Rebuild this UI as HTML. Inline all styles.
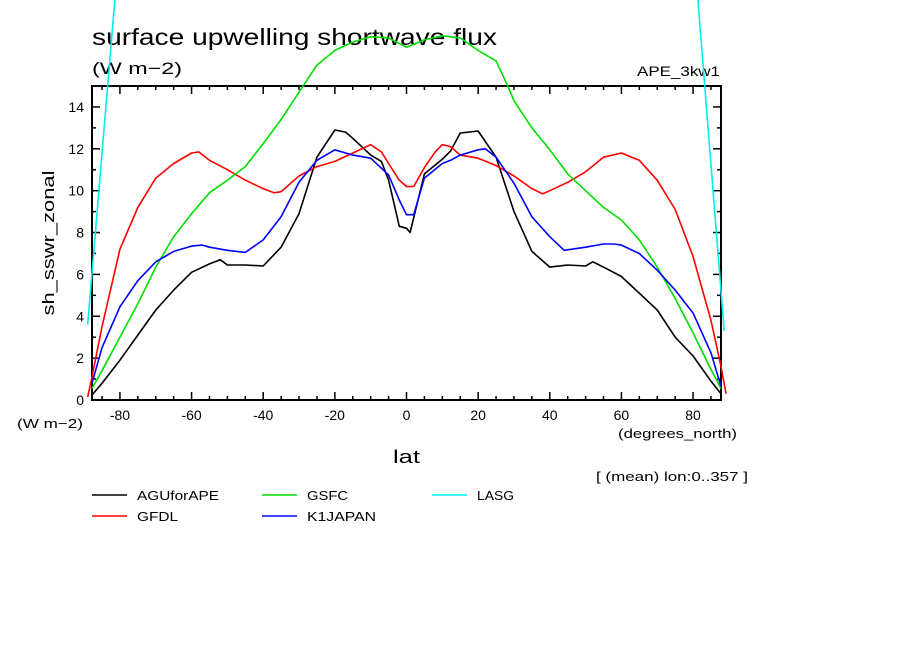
<!DOCTYPE html>
<html><head><meta charset="utf-8"><style>
body{margin:0;background:#fff;width:904px;height:654px;overflow:hidden}
svg{display:block;font-family:"Liberation Sans",sans-serif}
</style></head><body>
<svg id="chart" width="904" height="654" viewBox="0 0 904 654">
<text x="92" y="45" font-size="23" textLength="405" lengthAdjust="spacingAndGlyphs">surface upwelling shortwave flux</text>
<text x="92" y="74" font-size="17" textLength="90" lengthAdjust="spacingAndGlyphs">(W m−2)</text>
<text x="637" y="76" font-size="14" textLength="83" lengthAdjust="spacingAndGlyphs">APE_3kw1</text>
<text transform="translate(54,243) rotate(-90)" font-size="17" text-anchor="middle" textLength="145" lengthAdjust="spacingAndGlyphs">sh_sswr_zonal</text>
<text x="17" y="428" font-size="13" textLength="66" lengthAdjust="spacingAndGlyphs">(W m−2)</text>
<text x="618" y="438" font-size="13" textLength="119" lengthAdjust="spacingAndGlyphs">(degrees_north)</text>
<text x="393" y="463" font-size="18" textLength="27" lengthAdjust="spacingAndGlyphs">lat</text>
<text x="596" y="481" font-size="13" textLength="152" lengthAdjust="spacingAndGlyphs">[ (mean) lon:0..357 ]</text>
<g id="axes"></g>
<g id="series"></g>
<g id="legend"></g>
</svg>
<script>
const xTicks=[-80,-60,-40,-20,0,20,40,60,80];
const yTicks=[0,2,4,6,8,10,12,14];
const latAGU=[-87.8,-85,-80,-75,-70,-65,-60,-55,-52,-50,-45,-40,-35,-30,-25,-20,-17,-15,-10,-7,-5,-2,0,1,5,10,12.3,15,20,25,30,35,40,45,50,52,55,60,65,70,75,80,85,87.8];
const valAGU=[0.24,0.8,1.9,3.1,4.3,5.25,6.1,6.5,6.7,6.45,6.45,6.4,7.3,8.9,11.6,12.9,12.8,12.5,11.7,11.4,10.5,8.3,8.2,8.0,10.8,11.5,11.9,12.75,12.85,11.6,9.0,7.1,6.35,6.45,6.4,6.6,6.35,5.9,5.1,4.3,3.0,2.1,0.9,0.3];
const latGFDL=[-89,-87.8,-85,-80,-75,-70,-65,-60,-58,-55,-50,-45,-40,-37,-35,-30,-25,-20,-15,-10,-7,-5,-2,0,2,5,8,10,12.3,15,20,25,30,35,38,40,45,50,55,60,65,70,75,80,85,87.8,89.2];
const valGFDL=[0.15,1.1,3.5,7.2,9.2,10.6,11.3,11.8,11.85,11.45,11.0,10.5,10.1,9.9,9.95,10.7,11.15,11.4,11.8,12.2,11.85,11.3,10.5,10.2,10.2,11.1,11.85,12.2,12.1,11.7,11.55,11.2,10.7,10.1,9.85,10.0,10.4,10.9,11.6,11.8,11.45,10.5,9.1,6.85,3.8,1.6,0.3];
const latGSFC=[-87.8,-85,-80,-75,-70,-65,-60,-55,-50,-45,-40,-35,-30,-25,-20,-15,-10,-5,0,5,10,15,20,25,28,30,35,40,45,50,55,60,65,70,75,80,85,87.8];
const valGSFC=[0.55,1.4,3.0,4.6,6.35,7.8,8.9,9.9,10.5,11.15,12.25,13.4,14.7,16.0,16.7,17.1,17.35,17.3,16.85,17.2,17.4,17.3,16.7,16.2,15.1,14.3,13.0,11.95,10.8,10.0,9.2,8.6,7.65,6.35,4.85,3.2,1.45,0.55];
const latK1=[-87.8,-85,-80,-75,-70,-65,-60,-57,-55,-50,-45,-40,-35,-30,-25,-20,-15,-10,-5,-2,0,2,5,10,12.3,15,20,22,25,30,35,40,44,50,55,58,60,65,70,75,80,85,87.8];
const valK1=[0.8,2.5,4.45,5.7,6.6,7.1,7.35,7.4,7.3,7.15,7.05,7.65,8.75,10.4,11.45,11.95,11.7,11.55,10.75,9.55,8.85,8.85,10.6,11.3,11.45,11.7,11.95,12.0,11.6,10.35,8.75,7.8,7.15,7.3,7.45,7.45,7.4,7.0,6.2,5.25,4.15,2.25,0.65];
const latLASG=[-89,-80,80,88.7];
const valLASG=[3.6,22,22,3.3];
const names=["AGUforAPE","GFDL","GSFC","K1JAPAN","LASG"];
const colors=["#000","#f00","#0d0","#00f","#0ee"];
const NS="http://www.w3.org/2000/svg";
const X0=92,X1=721,Y0=400,Y1=86,LMIN=-87.8,LMAX=87.8,VMAX=15;
const sx=l=>X0+(l-LMIN)/(LMAX-LMIN)*(X1-X0);
const sy=v=>Y0-v/VMAX*(Y0-Y1);
function mk(t,a,p){const e=document.createElementNS(NS,t);for(const k in a)e.setAttribute(k,a[k]);p.appendChild(e);return e;}
const ax=document.getElementById('axes');
const frame=mk('rect',{x:X0,y:Y1,width:X1-X0,height:Y0-Y1,fill:'none',stroke:'#000','stroke-width':2},ax);


for(let l=-85;l<=85;l+=5){const x=sx(l);const L=(l%20===0)?8:4;
 const t1=mk('line',{x1:x,x2:x,y1:Y0,y2:Y0-L,stroke:'#000','stroke-width':1.5},ax);
 
 
 const t2=mk('line',{x1:x,x2:x,y1:Y1,y2:Y1+L,stroke:'#000','stroke-width':1.5},ax);
 
 }
for(let v=1;v<=15;v++){const y=sy(v);const L=(v%2===0)?8:4;
 const t1=mk('line',{x1:X0,x2:X0+L,y1:y,y2:y,stroke:'#000','stroke-width':1.5},ax);
 
 
 const t2=mk('line',{x1:X1,x2:X1-L,y1:y,y2:y,stroke:'#000','stroke-width':1.5},ax);
 
 }
xTicks.forEach(l=>{const t=mk('text',{x:sx(l),y:420,'font-size':14,'text-anchor':'middle'},ax);t.textContent=l;
 
 });
yTicks.forEach(v=>{const t=mk('text',{x:84,y:sy(v)+5,'font-size':14,'text-anchor':'end'},ax);t.textContent=v;
 
 });
const lats=[latAGU,latGFDL,latGSFC,latK1,latLASG],vals=[valAGU,valGFDL,valGSFC,valK1,valLASG];
const sg=document.getElementById('series');
for(let i=0;i<5;i++){
 const d=lats[i].map((l,j)=>(j?'L':'M')+sx(l).toFixed(1)+' '+sy(vals[i][j]).toFixed(1)).join(' ');
 const p=mk('path',{d:d,fill:'none',stroke:colors[i],'stroke-width':1.6,'stroke-linejoin':'round'},sg);
 
 }
const lg=document.getElementById('legend');
const pos=[[92,495],[92,516],[262,495],[262,516],[432,495]];
const lw=[82,41,41,69,37];
for(let i=0;i<5;i++){const [x,y]=pos[i];
 const g=mk('g',{},lg);
 
 
 mk('line',{x1:x,x2:x+35,y1:y,y2:y,stroke:colors[i],'stroke-width':1.6},g);
 const t=mk('text',{x:x+45,y:y+5,'font-size':13,textLength:lw[i],lengthAdjust:'spacingAndGlyphs'},g);t.textContent=names[i];}
</script>
</body></html>
